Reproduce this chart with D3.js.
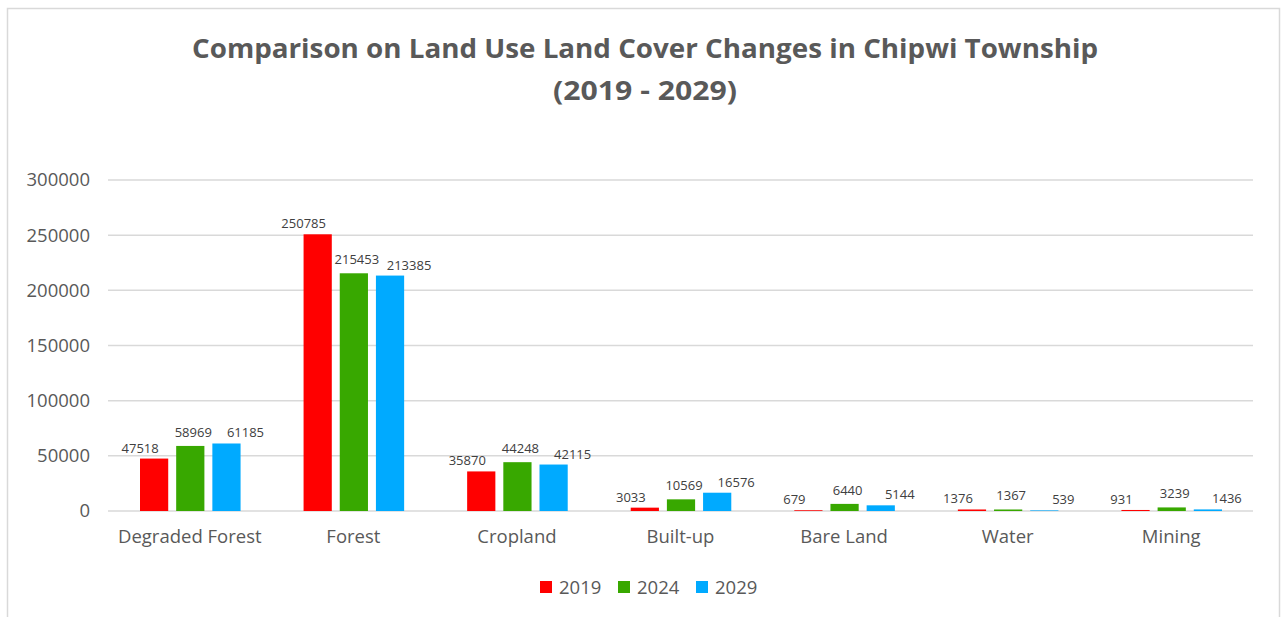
<!DOCTYPE html>
<html>
<head>
<meta charset="utf-8">
<script src="https://cdn.jsdelivr.net/npm/d3@7"></script>
<style>
  body { margin: 0; background: #fff; }
  text { font-family: "Open Sans", "Noto Sans", sans-serif; }
</style>
</head>
<body>
<svg id="chart" width="1287" height="617"></svg>
<script>
// data
const categories = ["Degraded Forest", "Forest", "Cropland", "Built-up", "Bare Land", "Water", "Mining"];
const seriesNames = ["2019", "2024", "2029"];
const values2019 = [47518, 250785, 35870, 3033, 679, 1376, 931];
const values2024 = [58969, 215453, 44248, 10569, 6440, 1367, 3239];
const values2029 = [61185, 213385, 42115, 16576, 5144, 539, 1436];
const yTicks = [0, 50000, 100000, 150000, 200000, 250000, 300000];
const titleLines = ["Comparison on Land Use Land Cover Changes in Chipwi Township", "(2019 - 2029)"];

const colors = ["#ff0000", "#38a800", "#00aaff"];
const allSeries = [values2019, values2024, values2029];
// labels spread sideways so neighbours do not collide
const labelShift = [-14, 3, 19];
const titleWidths = [906, 184];

let svg = d3.select("#chart");

// outer frame
svg.append("rect")
  .attr("x", 7.5).attr("y", 8.5)
  .attr("width", 1272).attr("height", 640)
  .attr("fill", "#fff")
  .attr("stroke", "#d9d9d9")
  .attr("stroke-width", 1.5);

// title
svg.append("g").selectAll("text")
  .data(titleLines)
  .enter().append("text")
  .attr("x", 645)
  .attr("y", function (d, i) { return 58 + i * 42; })
  .attr("text-anchor", "middle")
  .attr("font-size", 27)
  .attr("font-weight", "bold")
  .attr("fill", "#595959")
  .attr("textLength", function (d, i) { return titleWidths[i]; })
  .attr("lengthAdjust", "spacingAndGlyphs")
  .text(function (d) { return d; });

let margin = { top: 180, left: 108, right: 34, bottom: 106 };
let width = 1287 - margin.left - margin.right;
let height = 617 - margin.top - margin.bottom;

let x = d3.scaleBand().domain(categories).range([0, width]).paddingInner(0).paddingOuter(0);
let xs = d3.scaleBand().domain(seriesNames).range([32, x.bandwidth() - 31]).paddingInner(0.22);
let y = d3.scaleLinear().domain([0, 300000]).range([height, 0]);

let chart = svg.append("g").attr("transform", "translate(" + margin.left + "," + margin.top + ")");

// gridlines
chart.append("g").selectAll("line")
  .data(yTicks)
  .enter().append("line")
  .attr("x1", 0).attr("x2", width)
  .attr("y1", function (d) { return y(d); })
  .attr("y2", function (d) { return y(d); })
  .attr("stroke", "#d9d9d9")
  .attr("stroke-width", 1.5);

// y axis labels
let yAxis = chart.append("g")
  .call(d3.axisLeft(y).tickValues(yTicks).tickSize(0).tickPadding(18).tickFormat(d3.format("d")));
yAxis.select(".domain").remove();
yAxis.selectAll("text")
  .attr("font-size", 18.5)
  .attr("font-family", "Open Sans, sans-serif")
  .attr("fill", "#595959");

// x axis labels
let xAxis = chart.append("g")
  .attr("transform", "translate(0," + height + ")")
  .call(d3.axisBottom(x).tickSize(0).tickPadding(19));
xAxis.select(".domain").remove();
xAxis.selectAll("text")
  .attr("font-size", 18.5)
  .attr("font-family", "Open Sans, sans-serif")
  .attr("fill", "#595959");

// bars
let groups = chart.selectAll(".cat")
  .data(categories)
  .enter().append("g")
  .attr("class", "cat")
  .attr("transform", function (d) { return "translate(" + x(d) + ",0)"; });

function rows(d, ci) {
  return allSeries.map(function (s, si) { return { s: seriesNames[si], v: s[ci], i: si }; });
}

groups.selectAll("rect")
  .data(rows)
  .enter().append("rect")
  .attr("x", function (d) { return xs(d.s); })
  .attr("width", xs.bandwidth())
  .attr("y", function (d) { return y(d.v); })
  .attr("height", function (d) { return height - y(d.v); })
  .attr("fill", function (d) { return colors[d.i]; });

groups.selectAll(".lbl")
  .data(rows)
  .enter().append("text")
  .attr("class", "lbl")
  .attr("x", function (d) { return xs(d.s) + xs.bandwidth() / 2 + labelShift[d.i]; })
  .attr("y", function (d) { return y(d.v) - (d.i === 1 ? 9 : 6); })
  .attr("text-anchor", "middle")
  .attr("font-size", 13)
  .attr("fill", "#404040")
  .text(function (d) { return d.v; });

// legend
let legend = svg.append("g").attr("transform", "translate(540,587)");
let items = legend.selectAll("g")
  .data(seriesNames)
  .enter().append("g")
  .attr("transform", function (d, i) { return "translate(" + (i * 78) + ",0)"; });
items.append("rect")
  .attr("x", 0).attr("y", -6)
  .attr("width", 12).attr("height", 12)
  .attr("fill", function (d, i) { return colors[i]; });
items.append("text")
  .attr("x", 19).attr("y", 7)
  .attr("font-size", 18.5)
  .attr("fill", "#595959")
  .text(function (d) { return d; });
</script>
</body>
</html>
